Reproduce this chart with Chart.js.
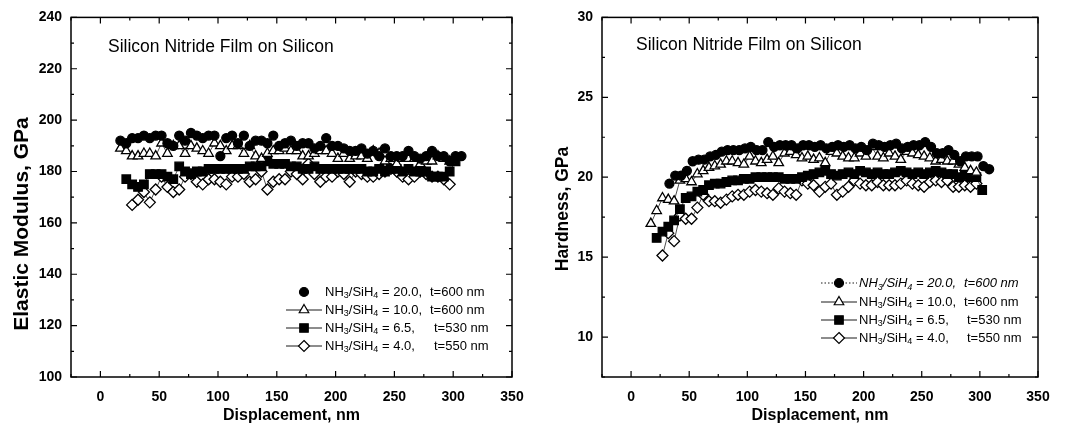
<!DOCTYPE html>
<html>
<head>
<meta charset="utf-8">
<script src="https://cdn.jsdelivr.net/npm/chart.js@4.4.0/dist/chart.umd.min.js"></script>
<style>
  html, body { margin: 0; padding: 0; background: #fff; }
  #wrap { position: relative; width: 1071px; height: 437px; overflow: hidden; }
  #modChart { position: absolute; left: 0; top: 0; }
  #hardChart { position: absolute; left: 530px; top: 0; }
</style>
</head>
<body>
<div id="wrap">
  <canvas id="modChart" width="545" height="437"></canvas>
  <canvas id="hardChart" width="541" height="437"></canvas>
</div>
<script>
// displacement (nm) for each series
const dispA = [17,22,27,32,37,42,47,52,57,62,67,72,77,82,87,92,97,102,107,112,117,122,127,132,137,142,147,152,157,162,167,172,177,182,187,192,197,202,207,212,217,222,227,232,237,242,247,252,257,262,267,272,277,282,287,292,297,302,307];
const dispB = [17,22,27,32,37,42,47,52,57,62,67,72,77,82,87,92,97,102,107,112,117,122,127,132,137,142,147,152,157,162,167,172,177,182,187,192,197,202,207,212,217,222,227,232,237,242,247,252,257,262,267,272,277,282,287,292,297];
const dispC = [22,27,32,37,42,47,52,57,62,67,72,77,82,87,92,97,102,107,112,117,122,127,132,137,142,147,152,157,162,167,172,177,182,187,192,197,202,207,212,217,222,227,232,237,242,247,252,257,262,267,272,277,282,287,292,297,302];
const dispD = [27,32,37,42,47,52,57,62,67,72,77,82,87,92,97,102,107,112,117,122,127,132,137,142,147,152,157,162,167,172,177,182,187,192,197,202,207,212,217,222,227,232,237,242,247,252,257,262,267,272,277,282,287,292,297];
const dispE = [33,38,43,48,53,58,63,68,73,78,83,88,93,98,103,108,113,118,123,128,133,138,143,148,153,158,163,168,173,178,183,188,193,198,203,208,213,218,223,228,233,238,243,248,253,258,263,268,273,278,283,288,293,298,303,308];

// elastic modulus, GPa
const mod20 = [192,191,193,193,194,193,194,194,191,190,194,192,195,194,193,194,194,186,193,194,191,194,190,192,192,191,194,190,191,192,190,191,191,189,190,193,190,190,189,188,188,189,187,188,186,189,186,186,186,188,186,185,186,188,186,186,184,186,186];
const mod10 = [189,188,186,186,187,187,186,191,187,190,190,187,190,189,188,187,191,190,188,190,190,187,190,186,185,187,188,188,189,188,188,186,186,187,188,188,187,185,187,185,186,186,185,188,187,184,185,183,185,185,185,183,184,184,186,185,184];
const mod65 = [177,175,174,175,179,179,179,178,177,182,180,179,180,180,181,181,181,181,181,181,181,182,182,182,184,183,183,183,182,182,181,181,182,181,181,181,181,181,181,181,181,180,180,181,180,181,181,180,181,180,180,180,178,178,178,180,184];
const mod40 = [167,169,172,168,173,178,174,172,173,178,179,176,175,177,177,176,175,178,178,179,176,177,180,173,176,177,177,180,179,177,183,179,176,178,178,180,179,176,180,179,178,178,179,180,181,180,178,177,178,180,179,178,178,177,175];

// hardness, GPa
const hard20 = [19.6,20.1,20.1,20.4,21.0,21.1,21.1,21.3,21.4,21.6,21.7,21.7,21.7,21.8,21.9,21.7,21.7,22.2,21.9,22.0,22.0,22.0,21.8,22.0,22.0,21.9,22.0,21.8,21.9,22.0,21.9,22.0,21.8,21.9,21.7,22.1,22.0,21.9,22.0,22.1,21.8,21.9,22.0,22.0,22.2,21.9,21.5,21.5,21.7,21.4,21.0,21.3,21.3,21.3,20.7,20.5];
const hard10 = [17.1,17.9,18.7,18.6,18.5,19.8,19.9,19.7,20.2,20.4,20.6,20.7,20.8,21.0,21.0,20.9,20.8,21.3,21.0,20.9,21.1,21.3,20.9,21.5,21.6,21.4,21.2,21.3,21.1,21.2,20.9,21.6,21.5,21.3,21.2,21.2,21.5,21.3,21.9,21.3,21.2,21.5,21.3,21.1,21.6,21.5,21.4,21.3,21.2,21.0,21.1,21.0,21.0,20.8,20.6,20.4,20.3];
const hard65 = [16.2,16.6,16.9,17.3,18.0,18.7,18.8,19.1,19.2,19.5,19.6,19.6,19.7,19.8,19.8,19.9,19.9,20.0,20.0,20.0,20.0,20.0,19.9,19.9,19.9,20.0,20.1,20.2,20.3,20.4,20.2,20.1,20.2,20.3,20.2,20.4,20.3,20.2,20.3,20.2,20.2,20.3,20.4,20.3,20.2,20.3,20.2,20.3,20.4,20.3,20.2,20.2,20.0,20.1,20.0,20.0,19.2];
const hard40 = [15.1,16.5,16.0,17.6,17.4,17.4,18.1,18.9,18.5,18.5,18.4,18.6,18.8,18.9,18.9,19.1,19.2,19.1,19.0,18.9,19.3,19.1,19.0,18.9,19.8,19.6,19.5,19.1,19.4,19.6,18.9,19.1,19.4,19.8,19.6,19.5,19.5,19.7,19.5,19.5,19.5,19.6,19.8,19.6,19.5,19.4,19.7,19.8,19.7,19.8,19.4,19.4,19.5,19.4,19.6];

// legend entries
const ratios = ['20.0', '10.0', '6.5', '4.0'];
const thickness = ['600', '600', '530', '550'];

// ticks
const dispTicks = [0, 50, 100, 150, 200, 250, 300, 350];
const dispMinor = [-25, 25, 75, 125, 175, 225, 275, 325];
const modTicks = [100, 120, 140, 160, 180, 200, 220, 240];
const modMinor = [110, 130, 150, 170, 190, 210, 230];
const hardTicks = [10, 15, 20, 25, 30];
const hardMinor = [7.5, 12.5, 17.5, 22.5, 27.5];

const FONT = "'Liberation Sans', Arial, sans-serif";

function pts(xs, ys) {
  return xs.map((x, i) => ({ x: x, y: ys[i] }));
}

function series(xs, ys, style, r, fill, line) {
  return {
    data: pts(xs, ys),
    pointStyle: style,
    pointRadius: r,
    pointHoverRadius: r,
    pointBackgroundColor: fill,
    pointBorderColor: '#000',
    pointBorderWidth: 1.3,
    borderColor: '#000',
    borderWidth: 0.7,
    borderDash: line === 'dot' ? [1.5, 2] : [],
    showLine: line !== 'none'
  };
}

function marker(ctx, style, x, y, r, fill) {
  ctx.beginPath();
  if (style === 'circle') {
    ctx.arc(x, y, r, 0, Math.PI * 2);
  } else if (style === 'rect') {
    const s = r * Math.SQRT1_2;
    ctx.rect(x - s, y - s, 2 * s, 2 * s);
  } else if (style === 'rectRot') {
    ctx.moveTo(x, y - r); ctx.lineTo(x + r, y); ctx.lineTo(x, y + r); ctx.lineTo(x - r, y); ctx.closePath();
  } else {
    const w = r * Math.sqrt(3) / 2;
    ctx.moveTo(x, y - r); ctx.lineTo(x + w, y + r / 2); ctx.lineTo(x - w, y + r / 2); ctx.closePath();
  }
  ctx.fillStyle = fill;
  ctx.lineWidth = 1.2;
  ctx.strokeStyle = '#000';
  ctx.fill();
  ctx.stroke();
}

// box, inward ticks, y title, note and legend drawn on top of the plot
const decor = {
  id: 'decor',
  afterDraw(chart, args, o) {
    const { ctx, chartArea: a } = chart;
    const sx = chart.scales.x, sy = chart.scales.y;
    ctx.save();
    ctx.strokeStyle = '#000';
    ctx.lineWidth = 1.5;
    ctx.strokeRect(a.left, a.top, a.right - a.left, a.bottom - a.top);
    ctx.lineWidth = 1.2;
    const tick = (vals, len, horiz) => vals.forEach(v => {
      ctx.beginPath();
      if (horiz) {
        const p = sx.getPixelForValue(v);
        ctx.moveTo(p, a.bottom); ctx.lineTo(p, a.bottom - len);
        ctx.moveTo(p, a.top); ctx.lineTo(p, a.top + len);
      } else {
        const p = sy.getPixelForValue(v);
        ctx.moveTo(a.left, p); ctx.lineTo(a.left + len, p);
        ctx.moveTo(a.right, p); ctx.lineTo(a.right - len, p);
      }
      ctx.stroke();
    });
    tick(dispTicks, 6, true);
    tick(dispMinor, 3, true);
    tick(o.yMajor, 6, false);
    tick(o.yMinor, 3, false);

    ctx.fillStyle = '#000';
    ctx.textBaseline = 'middle';

    // rotated y title
    ctx.save();
    ctx.translate(o.titleX, o.titleY);
    ctx.rotate(-Math.PI / 2);
    ctx.textAlign = 'center';
    ctx.font = 'bold ' + o.titleSize + 'px ' + FONT;
    ctx.fillText(o.title, 0, 0);
    ctx.restore();

    ctx.font = '17.5px ' + FONT;
    ctx.fillText('Silicon Nitride Film on Silicon', o.noteX, o.noteY);

    // legend
    const L = o.legend;
    chart.data.datasets.forEach((d, i) => {
      const y = L.rows[i];
      ctx.strokeStyle = '#000';
      if (d.showLine) {
        ctx.lineWidth = 0.9;
        ctx.setLineDash(d.borderDash);
        ctx.beginPath(); ctx.moveTo(L.x0, y); ctx.lineTo(L.x1, y); ctx.stroke();
        ctx.setLineDash([]);
      }
      marker(ctx, d.pointStyle, (L.x0 + L.x1) / 2, y, d.pointRadius, d.pointBackgroundColor);
      ctx.fillStyle = '#000';
      const italic = (o.italicFirst && i === 0) ? 'italic ' : '';
      const big = italic + '13px ' + FONT, small = italic + '9px ' + FONT;
      let x = L.tx;
      const put = (t, f, dy) => { ctx.font = f; ctx.fillText(t, x, y + dy); x += ctx.measureText(t).width; };
      put('NH', big, 0); put('3', small, 4); put('/SiH', big, 0); put('4', small, 4);
      put(' = ' + ratios[i] + ',', big, 0);
      ctx.font = big;
      ctx.fillText('t=' + thickness[i] + ' nm', L.tcol[i], y);
    });
    ctx.restore();
  }
};

function options(yTicks, yMin, yMax, lay) {
  return {
    responsive: false,
    animation: false,
    events: [],
    layout: { padding: { top: lay.top, right: lay.right, left: 0, bottom: 0 } },
    plugins: {
      legend: { display: false },
      tooltip: { enabled: false },
      decor: lay.decor
    },
    scales: {
      x: {
        type: 'linear', min: -25, max: 350,
        afterBuildTicks: s => { s.ticks = dispTicks.map(v => ({ value: v })); },
        afterFit: s => { s.height = 60; },
        grid: { display: false, drawTicks: false },
        border: { display: false },
        ticks: { padding: 12, color: '#000', font: { family: FONT, size: 14, weight: 'bold' } },
        title: { display: true, text: 'Displacement, nm', color: '#000',
                 font: { family: FONT, size: 16, weight: 'bold' }, padding: { top: 0, bottom: 12 } }
      },
      y: {
        type: 'linear', min: yMin, max: yMax,
        afterBuildTicks: s => { s.ticks = yTicks.map(v => ({ value: v })); },
        afterFit: s => { s.width = lay.yw; },
        grid: { display: false, drawTicks: false },
        border: { display: false },
        ticks: { padding: 9, color: '#000', font: { family: FONT, size: 14, weight: 'bold' } }
      }
    }
  };
}

new Chart(document.getElementById('modChart'), {
  type: 'scatter',
  data: {
    datasets: [
      series(dispA, mod20, 'circle', 4.5, '#000', 'none'),
      series(dispB, mod10, 'triangle', 5.5, '#fff', 'solid'),
      series(dispC, mod65, 'rect', 6, '#000', 'solid'),
      series(dispD, mod40, 'rectRot', 5.5, '#fff', 'solid')
    ]
  },
  options: options(modTicks, 100, 240, {
    top: 15, right: 33, yw: 71,
    decor: {
      yMajor: modTicks, yMinor: modMinor, noteX: 108, noteY: 47, italicFirst: false,
      title: 'Elastic Modulus, GPa', titleX: 22, titleY: 224, titleSize: 21,
      legend: { x0: 286, x1: 322, tx: 325, rows: [292, 310, 328, 346], tcol: [430, 430, 434, 434] }
    }
  }),
  plugins: [decor]
});

new Chart(document.getElementById('hardChart'), {
  type: 'scatter',
  data: {
    datasets: [
      series(dispE, hard20, 'circle', 4.5, '#000', 'dot'),
      series(dispB, hard10, 'triangle', 5.5, '#fff', 'solid'),
      series(dispC, hard65, 'rect', 6, '#000', 'solid'),
      series(dispD, hard40, 'rectRot', 5.5, '#fff', 'solid')
    ]
  },
  options: options(hardTicks, 7.5, 30, {
    top: 13, right: 33, yw: 72,
    decor: {
      yMajor: hardTicks, yMinor: hardMinor, noteX: 106, noteY: 45, italicFirst: true,
      title: 'Hardness, GPa', titleX: 33, titleY: 209, titleSize: 17.5,
      legend: { x0: 291, x1: 327, tx: 329, rows: [283, 302, 320, 338], tcol: [434, 434, 437, 437] }
    }
  }),
  plugins: [decor]
});
</script>
</body>
</html>
